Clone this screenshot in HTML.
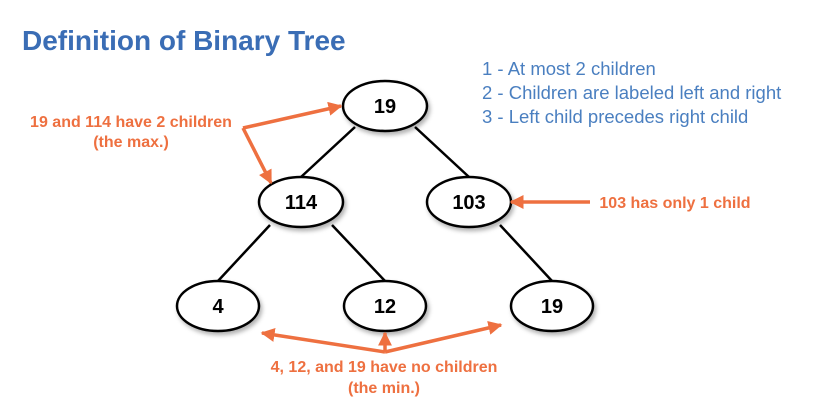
<!DOCTYPE html>
<html><head><style>
body{margin:0;width:835px;height:410px;background:#fff;overflow:hidden;font-family:"Liberation Sans",sans-serif}
</style></head><body>
<svg width="835" height="410" xmlns="http://www.w3.org/2000/svg" font-family="Liberation Sans, sans-serif">
<defs>
<marker id="a" viewBox="0 0 10 10" refX="9" refY="5" markerWidth="4" markerHeight="4" orient="auto"><path d="M0,0L10,5L0,10z" fill="#ee7040"/></marker>
<filter id="s" x="-20%" y="-20%" width="150%" height="150%"><feDropShadow dx="2" dy="3" stdDeviation="2" flood-opacity="0.3"/></filter>
</defs>
<text x="22" y="50" font-size="28" font-weight="bold" fill="#3a6db5">Definition of Binary Tree</text>
<g font-size="18.5" fill="#4a7fc0">
<text x="482" y="75">1 - At most 2 children</text>
<text x="482" y="99">2 - Children are labeled left and right</text>
<text x="482" y="123">3 - Left child precedes right child</text>
</g>
<g stroke="#000" stroke-width="2.5">
<line x1="355" y1="127" x2="301" y2="177"/>
<line x1="415" y1="127" x2="469" y2="177"/>
<line x1="270" y1="225" x2="218" y2="281"/>
<line x1="332" y1="225" x2="385" y2="281"/>
<line x1="500" y1="225" x2="552" y2="281"/>
</g>
<g fill="#fff" stroke="#000" stroke-width="2.5" filter="url(#s)">
<ellipse cx="385" cy="106" rx="42" ry="25"/>
<ellipse cx="301" cy="202" rx="42" ry="25"/>
<ellipse cx="469" cy="202" rx="42" ry="25"/>
<ellipse cx="218" cy="306" rx="41" ry="25"/>
<ellipse cx="385" cy="306" rx="41" ry="25"/>
<ellipse cx="552" cy="306" rx="41" ry="25"/>
</g>
<g font-size="20" font-weight="bold" text-anchor="middle" fill="#000">
<text x="385" y="113">19</text>
<text x="301" y="209">114</text>
<text x="469" y="209">103</text>
<text x="218" y="313">4</text>
<text x="385" y="313">12</text>
<text x="552" y="313">19</text>
</g>
<g stroke="#ee7040" stroke-width="3.5" fill="none" marker-end="url(#a)">
<line x1="243" y1="128" x2="341" y2="106"/>
<line x1="243" y1="128" x2="271" y2="183"/>
<line x1="590" y1="202" x2="511" y2="202"/>
<line x1="385" y1="352" x2="262" y2="333"/>
<line x1="385" y1="352" x2="501" y2="325"/>
<line x1="385" y1="352" x2="385" y2="333"/>
</g>
<g font-size="16" font-weight="bold" fill="#ee7040" text-anchor="middle">
<text x="131" y="127">19 and 114 have 2 children</text>
<text x="131" y="147">(the max.)</text>
<text x="675" y="208">103 has only 1 child</text>
<text x="384" y="372">4, 12, and 19 have no children</text>
<text x="384" y="393">(the min.)</text>
</g>
</svg>
</body></html>
